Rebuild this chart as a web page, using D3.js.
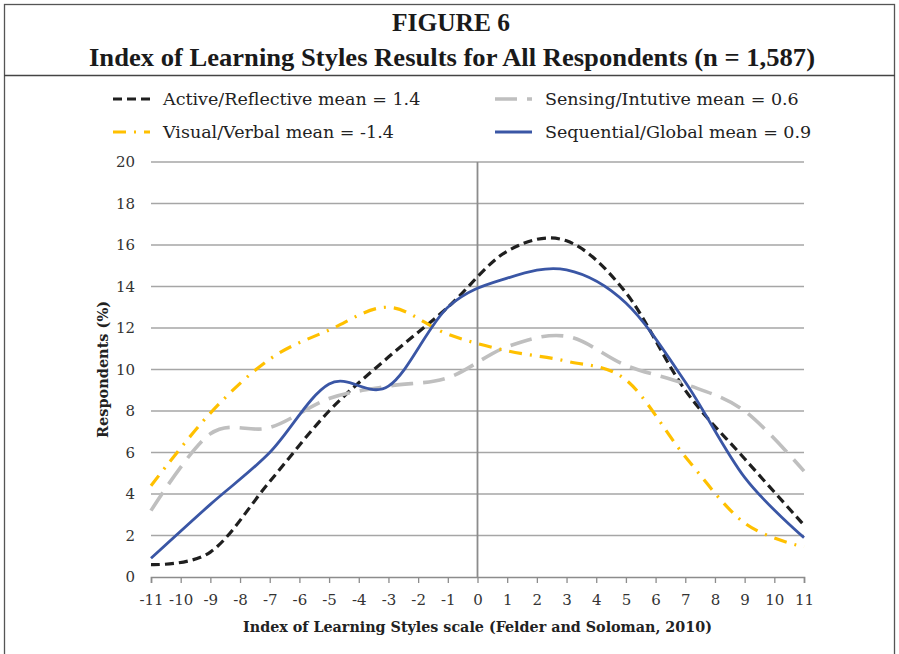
<!DOCTYPE html>
<html>
<head>
<meta charset="utf-8">
<script src="https://cdn.jsdelivr.net/npm/d3@7"></script>
<style>
  body { margin: 0; background: #fff; }
  svg { display: block; }
</style>
</head>
<body>
<svg id="chart" width="899" height="654"></svg>
<script>
// ILS scores are odd values only
const scores = [-11, -9, -7, -5, -3, -1, 1, 3, 5, 7, 9, 11]
const activeReflective = [0.6, 1.2, 4.6, 8.0, 10.6, 13.0, 15.7, 16.2, 13.7, 9.0, 5.7, 2.5]
const sensingIntuitive = [3.2, 6.9, 7.2, 8.6, 9.2, 9.6, 11.1, 11.6, 10.2, 9.3, 8.0, 5.1]
const visualVerbal = [4.4, 7.9, 10.5, 11.9, 13.0, 11.7, 10.9, 10.4, 9.5, 5.8, 2.6, 1.45]
const sequentialGlobal = [0.9, 3.5, 6.0, 9.3, 9.2, 13.0, 14.4, 14.8, 13.2, 9.4, 4.8, 1.9]
const xTicks = d3.range(-11, 12)
const yTicks = d3.range(0, 21, 2)

const series = [
    { name: 'Active/Reflective mean = 1.4', values: activeReflective, color: '#1f1f1f', width: 3.2, dash: '9,5' },
    { name: 'Sensing/Intutive mean = 0.6', values: sensingIntuitive, color: '#bfbfbf', width: 3.6, dash: '22,10' },
    { name: 'Visual/Verbal mean = -1.4', values: visualVerbal, color: '#ffc000', width: 3.2, dash: '13,8,2,8' },
    { name: 'Sequential/Global mean = 0.9', values: sequentialGlobal, color: '#3a56a5', width: 2.8, dash: null }
]

const svg = d3.select('#chart')
const W = 899, H = 654
const margin = { left: 151, right: 95, top: 162, bottom: 77 }
const serif = 'DejaVu Serif, serif'

const x = d3.scaleLinear().domain([-11, 11]).range([margin.left, W - margin.right])
const y = d3.scaleLinear().domain([0, 20]).range([H - margin.bottom, margin.top])

// figure frame
svg.append('rect')
    .attr('x', 4.5).attr('y', 4.5)
    .attr('width', W - 9).attr('height', H)
    .attr('fill', 'none').attr('stroke', '#555').attr('stroke-width', 1.3)
svg.append('line')
    .attr('x1', 4).attr('x2', W - 4)
    .attr('y1', 75.5).attr('y2', 75.5)
    .attr('stroke', '#444').attr('stroke-width', 1.3)

// title
const title = svg.append('g')
    .attr('font-family', 'Liberation Serif, Times New Roman, serif')
    .attr('font-weight', 'bold')
    .attr('fill', '#1a1a1a')
    .attr('text-anchor', 'middle')
title.append('text').attr('x', 451).attr('y', 31).attr('font-size', 26)
    .attr('textLength', 118).attr('lengthAdjust', 'spacingAndGlyphs')
    .text('FIGURE 6')
title.append('text').attr('x', 452).attr('y', 66).attr('font-size', 26)
    .attr('textLength', 726).attr('lengthAdjust', 'spacingAndGlyphs')
    .text('Index of Learning Styles Results for All Respondents (n = 1,587)')

// gridlines
svg.append('g')
    .selectAll('line')
    .data(yTicks.filter(d => d > 0))
    .join('line')
    .attr('x1', x(-11)).attr('x2', x(11))
    .attr('y1', d => y(d)).attr('y2', d => y(d))
    .attr('stroke', '#a6a6a6').attr('stroke-width', 1.4)

// y tick labels
svg.append('g')
    .attr('font-family', serif)
    .attr('font-size', 15)
    .attr('fill', '#333')
    .attr('text-anchor', 'end')
    .selectAll('text')
    .data(yTicks)
    .join('text')
    .attr('x', 135)
    .attr('y', d => y(d) + 5)
    .text(d => d)

// x axis
const xAxis = svg.append('g')
    .attr('transform', `translate(0,${y(0)})`)
    .call(d3.axisBottom(x).tickValues(xTicks).tickSize(6).tickPadding(11).tickFormat(d => String(d)))
xAxis.select('.domain').attr('stroke', '#8c8c8c').attr('stroke-width', 1.6)
xAxis.selectAll('.tick line').attr('stroke', '#8c8c8c').attr('stroke-width', 1.3)
xAxis.selectAll('.tick text')
    .attr('font-family', serif)
    .attr('font-size', 15)
    .attr('fill', '#333')

// vertical axis at zero
svg.append('line')
    .attr('x1', x(0)).attr('x2', x(0))
    .attr('y1', y(20)).attr('y2', y(0))
    .attr('stroke', '#8c8c8c').attr('stroke-width', 1.8)

// axis titles
svg.append('text')
    .attr('transform', `translate(108,${(y(0) + y(20)) / 2}) rotate(-90)`)
    .attr('text-anchor', 'middle')
    .attr('font-family', serif)
    .attr('font-weight', 'bold')
    .attr('font-size', 14.5)
    .attr('fill', '#222')
    .text('Respondents (%)')
svg.append('text')
    .attr('x', x(0)).attr('y', 632)
    .attr('text-anchor', 'middle')
    .attr('font-family', serif)
    .attr('font-weight', 'bold')
    .attr('font-size', 14.3)
    .attr('fill', '#222')
    .text('Index of Learning Styles scale (Felder and Soloman, 2010)')

// lines, smoothed like the spreadsheet
const line = d3.line()
    .x(d => x(d[0]))
    .y(d => y(d[1]))
    .curve(d3.curveCardinal.tension(0))

svg.append('g')
    .selectAll('path')
    .data(series)
    .join('path')
    .attr('d', s => line(scores.map((v, i) => [v, s.values[i]])))
    .attr('fill', 'none')
    .attr('stroke', s => s.color)
    .attr('stroke-width', s => s.width)
    .attr('stroke-dasharray', s => s.dash)
    .attr('stroke-linecap', 'butt')

// legend
const legendPos = [[113, 99], [495, 99], [113, 132], [495, 132]]
const legend = svg.append('g')
    .selectAll('g')
    .data(series)
    .join('g')
    .attr('transform', (d, i) => `translate(${legendPos[i][0]},${legendPos[i][1]})`)
legend.append('line')
    .attr('x1', 0).attr('x2', 37)
    .attr('stroke', s => s.color)
    .attr('stroke-width', s => s.width)
    .attr('stroke-dasharray', s => s.dash)
legend.append('text')
    .attr('x', 50).attr('y', 6)
    .attr('font-family', serif)
    .attr('font-size', 17.5)
    .attr('fill', '#222')
    .text(s => s.name)
</script>
</body>
</html>
